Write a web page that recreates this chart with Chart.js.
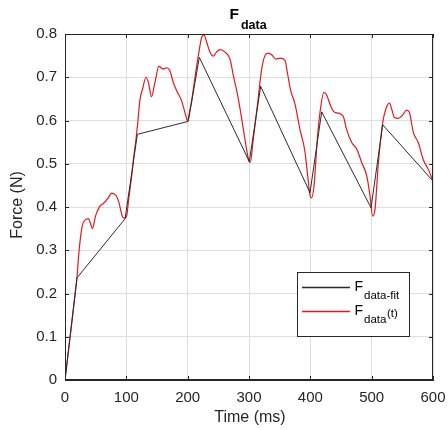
<!DOCTYPE html>
<html>
<head>
<meta charset="utf-8">
<script src="https://cdn.jsdelivr.net/npm/chart.js@4.4.0/dist/chart.umd.min.js"></script>
<style>
  html, body { margin: 0; padding: 0; background: #ffffff; }
  #wrap { width: 448px; height: 430px; }
</style>
</head>
<body>
<div id="wrap"><canvas id="c" width="448" height="430"></canvas></div>
<script>
// ---- data ----
const fitTime  = [0, 19.5, 98, 118, 201, 219, 300.5, 319, 399.5, 418.5, 499, 518, 600];
const fitForce = [0, 0.236, 0.373, 0.568, 0.598, 0.746, 0.505, 0.679, 0.433, 0.62, 0.398, 0.59, 0.46];

const dataTime = [0, 5, 10, 15, 19.5, 23, 28, 33, 38, 42, 44.5, 50, 57, 62.5, 70, 76, 80, 84, 88, 92.5,
  95, 98, 100.5, 104, 108.7, 112, 115.8, 119, 122, 126.7, 132, 136, 141, 146.7, 153, 160, 166, 171, 176.6, 182,
  190, 197, 200, 203, 206.5, 212, 217.4, 223, 226.6, 231, 236.4, 242, 247, 252.7, 261, 269, 274.5, 282.6, 290.8, 296,
  300.5, 302, 307, 313.6, 320.7, 326, 331.5, 337, 344, 350.5, 358.7, 362.5, 368, 375, 383, 391, 395.7, 399.5, 402, 406,
  411.4, 415.8, 422, 426.6, 433, 438.6, 445.7, 453.8, 459, 467.5, 475.6, 483.7, 492, 497, 501.6, 505.4, 511, 518, 523, 529,
  532.7, 537, 543.5, 550.6, 557, 561.4, 568, 576, 584, 592.4, 600];
const dataForce = [0, 0.06, 0.12, 0.18, 0.237, 0.30, 0.356, 0.37, 0.373, 0.36, 0.35, 0.38, 0.402, 0.408, 0.42, 0.432, 0.43, 0.425, 0.41, 0.383,
  0.375, 0.375, 0.379, 0.42, 0.472, 0.515, 0.557, 0.60, 0.646, 0.674, 0.70, 0.688, 0.655, 0.688, 0.725, 0.719, 0.722, 0.715, 0.688, 0.669,
  0.646, 0.611, 0.599, 0.62, 0.646, 0.70, 0.75, 0.793, 0.798, 0.781, 0.758, 0.749, 0.758, 0.764, 0.758, 0.742, 0.704, 0.65, 0.58, 0.534,
  0.504, 0.503, 0.557, 0.634, 0.719, 0.75, 0.756, 0.752, 0.742, 0.744, 0.739, 0.711, 0.669, 0.638, 0.58, 0.53, 0.472, 0.427, 0.421, 0.449,
  0.557, 0.619, 0.665, 0.659, 0.634, 0.62, 0.617, 0.609, 0.58, 0.549, 0.534, 0.503, 0.472, 0.429, 0.379, 0.394, 0.503, 0.595, 0.626, 0.64,
  0.626, 0.607, 0.605, 0.613, 0.624, 0.619, 0.572, 0.549, 0.51, 0.487, 0.46];

const xTicks = [0, 100, 200, 300, 400, 500, 600];
const yTicks = [0, 0.1, 0.2, 0.3, 0.4, 0.5, 0.6, 0.7, 0.8];

const titleMain = 'F', titleSub = 'data';
const xTitle = 'Time (ms)', yTitle = 'Force (N)';
const legendItems = [
  { main: 'F', sub: 'data-fit', tail: '' },
  { main: 'F', sub: 'data', tail: '(t)' }
];

const FONT = '"Liberation Sans", Arial, Helvetica, sans-serif';
const AX = '#262626';
const RED = '#e3191d';
const BLK = '#2b2b2b';

const fitPts = fitTime.map((t, i) => ({ x: t, y: fitForce[i] }));
const dataPts = dataTime.map((t, i) => ({ x: t, y: dataForce[i] }));

const decor = {
  id: 'decor',
  afterDraw(chart) {
    const ctx = chart.ctx;
    const a = chart.chartArea;
    const xs = chart.scales.x, ys = chart.scales.y;
    ctx.save();
    // box
    ctx.strokeStyle = AX;
    ctx.lineWidth = 1;
    ctx.strokeRect(Math.round(a.left) + 0.5, Math.round(a.top) + 0.5,
                   Math.round(a.right - a.left) - 1, Math.round(a.bottom - a.top) - 1);
    // inward ticks
    ctx.beginPath();
    const tl = 4;
    xTicks.forEach(v => {
      const px = Math.round(xs.getPixelForValue(v)) + 0.5;
      ctx.moveTo(px, a.bottom); ctx.lineTo(px, a.bottom - tl);
      ctx.moveTo(px, a.top); ctx.lineTo(px, a.top + tl);
    });
    yTicks.forEach(v => {
      const py = Math.round(ys.getPixelForValue(v)) + 0.5;
      ctx.moveTo(a.left, py); ctx.lineTo(a.left + tl, py);
      ctx.moveTo(a.right, py); ctx.lineTo(a.right - tl, py);
    });
    ctx.stroke();

    // title
    ctx.fillStyle = '#000';
    ctx.textBaseline = 'alphabetic';
    ctx.textAlign = 'left';
    ctx.font = 'bold 15.5px ' + FONT;
    const cx = (a.left + a.right) / 2;
    const wMain = ctx.measureText(titleMain).width;
    ctx.font = 'bold 12.5px ' + FONT;
    const wSub = ctx.measureText(titleSub).width;
    const tx = cx - (wMain + 2 + wSub) / 2 - 1;
    ctx.font = 'bold 15.5px ' + FONT;
    ctx.fillText(titleMain, tx, 18.5);
    ctx.font = 'bold 12.5px ' + FONT;
    ctx.fillText(titleSub, tx + wMain + 2, 28.5);

    // axis titles
    ctx.fillStyle = AX;
    ctx.font = '16px ' + FONT;
    ctx.textAlign = 'center';
    ctx.textBaseline = 'middle';
    ctx.fillText(xTitle, cx + 1, 418);
    ctx.save();
    ctx.translate(17.5, 205);
    ctx.rotate(-Math.PI / 2);
    ctx.fillText(yTitle, 0, 0);
    ctx.restore();

    // legend
    const lx = 297.5, ly = 272.5, lw = 112, lh = 64;
    ctx.fillStyle = '#fff';
    ctx.fillRect(lx, ly, lw, lh);
    ctx.strokeStyle = AX;
    ctx.lineWidth = 1;
    ctx.strokeRect(lx, ly, lw, lh);
    const rows = [287, 311];
    const cols = [BLK, RED];
    legendItems.forEach((it, i) => {
      const y = rows[i];
      ctx.beginPath();
      ctx.strokeStyle = cols[i];
      ctx.lineWidth = 1.3;
      ctx.moveTo(302, y + 0.5); ctx.lineTo(350, y + 0.5);
      ctx.stroke();
      ctx.fillStyle = '#000';
      ctx.textAlign = 'left';
      ctx.textBaseline = 'alphabetic';
      ctx.font = '14px ' + FONT;
      ctx.fillText(it.main, 354.5, y + 4);
      ctx.font = '11.5px ' + FONT;
      ctx.fillText(it.sub, 364, y + 11.5);
      if (it.tail) {
        const w = ctx.measureText(it.sub).width;
        ctx.fillText(it.tail, 364 + w + 0.5, y + 5.5);
      }
    });
    ctx.restore();
  }
};

new Chart(document.getElementById('c'), {
  type: 'line',
  data: {
    datasets: [
      {
        label: 'F data-fit',
        data: fitPts,
        borderColor: BLK,
        borderWidth: 1,
        pointRadius: 0,
        tension: 0,
        fill: false
      },
      {
        label: 'F data(t)',
        data: dataPts,
        borderColor: RED,
        borderWidth: 1.2,
        pointRadius: 0,
        cubicInterpolationMode: 'monotone',
        fill: false
      }
    ]
  },
  options: {
    responsive: false,
    animation: false,
    layout: { padding: { top: 34, right: 15, left: 0, bottom: 0 } },
    plugins: { legend: { display: false }, title: { display: false }, tooltip: { enabled: false } },
    scales: {
      x: {
        type: 'linear',
        min: 0, max: 600,
        afterFit(s) { s.height = 50; s.paddingLeft = 0; s.paddingRight = 0; },
        afterBuildTicks(s) { s.ticks = xTicks.map(v => ({ value: v })); },
        grid: { color: '#dedede', lineWidth: 1, drawTicks: false },
        border: { color: AX, width: 1 },
        ticks: { color: AX, font: { size: 15, family: FONT }, padding: 9, maxRotation: 0 }
      },
      y: {
        type: 'linear',
        min: 0, max: 0.8,
        afterFit(s) { s.width = 65; s.paddingTop = 0; s.paddingBottom = 0; },
        afterBuildTicks(s) { s.ticks = yTicks.map(v => ({ value: v })); },
        grid: { color: '#dedede', lineWidth: 1, drawTicks: false },
        border: { color: AX, width: 1 },
        ticks: { color: AX, font: { size: 15, family: FONT }, padding: 8,
                 callback: v => (v === 0 ? '0' : v.toFixed(1)) }
      }
    }
  },
  plugins: [decor]
});
</script>
</body>
</html>
